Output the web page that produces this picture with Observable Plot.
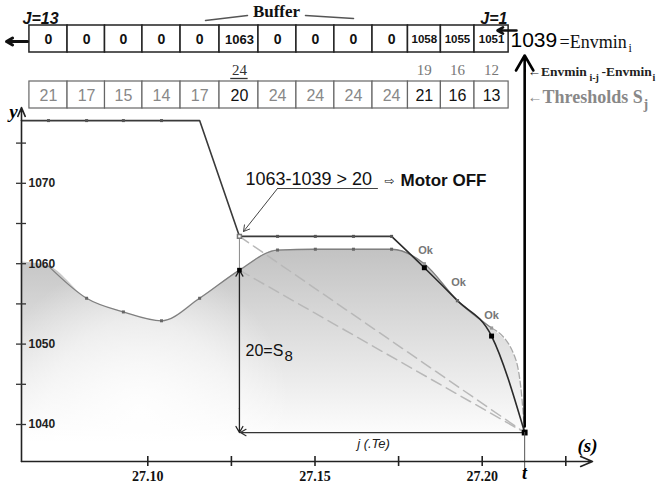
<!DOCTYPE html>
<html><head><meta charset="utf-8">
<script src="https://cdn.jsdelivr.net/npm/d3@7"></script>
<script src="https://cdn.jsdelivr.net/npm/@observablehq/plot@0.6"></script>
<style>body{margin:0;background:#fff;} svg{display:block;}</style>
</head><body><div id="chart"></div>
<script>
// ---------- data ----------
const lag = [13, 12, 11, 10, 9, 8, 7, 6, 5, 4, 3, 2, 1, 0];
const time = [27.0703, 27.0817, 27.0927, 27.1041, 27.1155, 27.1274, 27.1388, 27.1501, 27.1615, 27.1729, 27.1827, 27.1926, 27.2028, 27.2127];
const signal = [1059.7, 1055.7, 1054.0, 1052.9, 1055.7, 1059.2, 1061.7, 1061.8, 1061.8, 1061.8, 1060.0, 1055.4, 1052.0, 1039.0];
const envelope = [1077.8, 1077.8, 1077.8, 1077.8, 1077.8, 1063.4, 1063.4, 1063.4, 1063.4, 1063.4, 1059.5, 1055.4, 1051.0, 1039.0];
const envelopeStartTime = 27.0622, envelopeStartValue = 1077.8;
const signalStartTime = 27.0622, signalStartValue = 1060.2;
const signalTailTime = [27.2094, 27.2118];
const signalTailValue = [1048.8, 1043.6];
const bufferJ = [13, 12, 11, 10, 9, 8, 7, 6, 5, 4, 3, 2, 1];
const bufferValues = [0, 0, 0, 0, 0, 1063, 0, 0, 0, 0, 1058, 1055, 1051];
const thresholds = [21, 17, 15, 14, 17, 20, 24, 24, 24, 24, 21, 16, 13];
const diffJ = [8, 3, 2, 1];
const diffValues = [24, 19, 16, 12];
const currentValue = 1039;
const xTicks = [27.10, 27.125, 27.15, 27.175, 27.20, 27.225];
const xTickLabels = ["27.10", "", "27.15", "", "27.20", ""];
const yTicks = [1040, 1045, 1050, 1055, 1060, 1065, 1070, 1075];
const yTickLabels = ["1040", "", "1050", "", "1060", "", "1070", ""];

// ---------- pixel helpers for annotation placement ----------
const X = px => 27.10 + (px - 147.3) / 3344;
const Y = py => 1040 + (424 - py) / 8.04;

const idx = j => lag.indexOf(j);
const pts = lag.map((j, i) => ({j, time: time[i], signal: signal[i], envelope: envelope[i]}));
const cells = bufferJ.map((j, k) => {
  const i = idx(j);
  const left = i === 0 ? time[0] - (time[1] - time[0]) / 2 : (time[i - 1] + time[i]) / 2;
  const right = j === 1 ? time[i] + (time[i] - time[i - 1]) / 2 : (time[i] + time[i + 1]) / 2;
  return {j, time: time[i], x1: left, x2: right, buf: bufferValues[k], thr: thresholds[k]};
});
const diffs = diffJ.map((j, k) => ({j, time: time[idx(j)], v: diffValues[k]}));

const areaData = [{time: signalStartTime, v: signalStartValue}]
  .concat(pts.slice(0, 13).map(d => ({time: d.time, v: d.signal})))
  .concat(signalTailTime.map((t, k) => ({time: t, v: signalTailValue[k]})))
  .concat([{time: time[13], v: signal[13]}]);
const signalSolid = pts.slice(0, 13);
const signalTail = [{time: time[12], v: signal[12]}]
  .concat(signalTailTime.map((t, k) => ({time: t, v: signalTailValue[k]})))
  .concat([{time: time[13], v: signal[13]}]);
const envA = [{time: envelopeStartTime, envelope: envelopeStartValue}].concat(pts.slice(0, 10));
const envB = pts.slice(9);

const serif = "Liberation Serif", sans = "Liberation Sans";
const note = (t, px, py, o) => Plot.text([t], {x: X(px), y: Y(py), text: d => d, ...o});
const seg = (a, b, c, d, o) => Plot.line([[X(a), Y(b)], [X(c), Y(d)]], {x: p => p[0], y: p => p[1], ...o});
const arr = (a, b, c, d, o) => Plot.arrow([0], {x1: X(a), y1: Y(b), x2: X(c), y2: Y(d), ...o});

const t8 = time[idx(8)], t0 = time[idx(0)];

const chart = Plot.plot({
  width: 659, height: 484, margin: 0,
  x: {domain: [X(0), X(659)], axis: null},
  y: {domain: [Y(484), Y(0)], axis: null},
  style: {fontFamily: sans, background: "white", overflow: "visible"},
  marks: [
    // shaded area under the signal
    Plot.areaY(areaData, {x: "time", y1: Y(442), y2: "v", curve: "monotone-x", fill: "url(#shade)"}),
    Plot.areaY(areaData, {x: "time", y1: Y(442), y2: "v", curve: "monotone-x", fill: "url(#glow)"}),
    // dashed guide lines to the current point
    Plot.line([{time: t8, v: envelope[idx(8)]}, {time: t0, v: currentValue}], {x: "time", y: "v", stroke: "#b8b8b8", strokeDasharray: "11,6"}),
    Plot.line([{time: t8, v: signal[idx(8)]}, {time: t0, v: currentValue}], {x: "time", y: "v", stroke: "#b8b8b8", strokeDasharray: "11,6"}),
    // signal
    Plot.line(signalSolid, {x: "time", y: "signal", curve: "monotone-x", stroke: "#808080", strokeWidth: 1.3}),
    Plot.line(signalTail, {x: "time", y: "v", curve: "monotone-x", stroke: "#a8a8a8", strokeWidth: 1.3, strokeDasharray: "6,3"}),
    // envelope (buffered min)
    Plot.line(envA, {x: "time", y: "envelope", stroke: "#3a3a3a", strokeWidth: 1.6}),
    Plot.line(envB, {x: "time", y: "envelope", curve: "monotone-x", stroke: "#2a2a2a", strokeWidth: 1.6}),
    // j=8 vertical
    Plot.ruleX([t8], {y1: envelope[idx(8)], y2: signal[idx(8)], stroke: "#8a8a8a"}),
    Plot.arrow([0], {x1: t8, y1: currentValue + 3, x2: t8, y2: signal[idx(8)], stroke: "#222", strokeWidth: 1.3, headLength: 8}),
    Plot.arrow([0], {x1: t8, y1: currentValue + 3, x2: t8, y2: currentValue, stroke: "#222", strokeWidth: 1.3, headLength: 8}),
    Plot.arrow([0], {x1: t0, y1: currentValue, x2: t8 + 0.0003, y2: currentValue, stroke: "#333", strokeWidth: 1.2, headLength: 8}),
    // markers
    Plot.dot(pts.filter(d => [13, 12, 11, 10, 7, 6, 5, 4].includes(d.j)), {x: "time", y: "envelope", symbol: "square", r: 1.7, fill: "#555"}),
    Plot.dot(pts.filter(d => [12, 11, 10, 9, 7, 6, 5, 4].includes(d.j)), {x: "time", y: "signal", symbol: "square", r: 1.7, fill: "#666"}),
    Plot.dot(pts.filter(d => [3, 1].includes(d.j)), {x: "time", y: "signal", symbol: "square", r: 1.8, fill: "#999"}),
    Plot.dot(pts.filter(d => d.j === 8), {x: "time", y: "envelope", symbol: "square", r: 2.2, fill: "white", stroke: "#777"}),
    Plot.dot(pts.filter(d => d.j === 2), {x: "time", y: "envelope", symbol: "square", r: 1.8, fill: "#666"}),
    Plot.dot(pts.filter(d => [3, 1].includes(d.j)), {x: "time", y: "envelope", symbol: "square", r: 2.8, fill: "#000"}),
    Plot.dot(pts.filter(d => d.j === 8), {x: "time", y: "signal", symbol: "square", r: 2.6, fill: "#000"}),
    Plot.dot(pts.filter(d => d.j === 0), {x: "time", y: "envelope", symbol: "square", r: 3.3, fill: "#000"}),
    // current-time vertical
    Plot.ruleX([t0], {y1: currentValue, y2: Y(470), stroke: "#555"}),
    Plot.arrow([0], {x1: t0, y1: Y(426), x2: t0, y2: Y(55), stroke: "#000", strokeWidth: 2.6, headLength: 10}),
    // axes
    arr(21, 461, 592, 461, {stroke: "#222", strokeWidth: 1.6, headLength: 12, headAngle: 45}),
    arr(21, 461, 21, 107, {stroke: "#222", strokeWidth: 1.6, headLength: 9, headAngle: 45}),
    Plot.ruleX(xTicks, {y1: Y(456), y2: Y(466), stroke: "#222", strokeWidth: 1.6}),
    Plot.ruleY(yTicks, {x1: X(16), x2: X(26), stroke: "#333", strokeWidth: 1.3}),
    Plot.text(xTicks.map((t, k) => ({t, s: xTickLabels[k]})), {x: "t", y: Y(476), text: "s", fontFamily: serif, fontWeight: "bold", fontSize: 14, fill: "#111"}),
    Plot.text(yTicks.map((t, k) => ({t, s: yTickLabels[k]})), {x: X(28), y: "t", text: "s", textAnchor: "start", fontWeight: "bold", fontSize: 12, fill: "#222"}),
    note("y", 13, 111, {fontFamily: serif, fontStyle: "italic", fontWeight: "bold", fontSize: 19}),
    note("(s)", 587, 445, {fontFamily: serif, fontStyle: "italic", fontWeight: "bold", fontSize: 19}),
    note("t", 524, 473, {fontFamily: serif, fontStyle: "italic", fontWeight: "bold", fontSize: 18}),
    note("j (.Te)", 373, 443, {fontStyle: "italic", fontSize: 13, fill: "#222"}),
    note("20=S", 245, 350, {textAnchor: "start", fontSize: 16, fill: "#111"}),
    note("8", 284, 356, {textAnchor: "start", fontSize: 15, fill: "#111"}),
    note("Ok", 425, 250, {fontWeight: "bold", fontSize: 11, fill: "#777"}),
    note("Ok", 458, 282, {fontWeight: "bold", fontSize: 11, fill: "#777"}),
    note("Ok", 491, 315, {fontWeight: "bold", fontSize: 11, fill: "#777"}),
    // Motor OFF annotation
    note("1063-1039 > 20", 245, 179, {textAnchor: "start", fontSize: 18, fill: "#111"}),
    note("\u21E8", 389, 181, {fontFamily: "DejaVu Sans", fontSize: 12, fill: "#111"}),
    note("Motor OFF", 400, 180, {textAnchor: "start", fontWeight: "bold", fontSize: 17, fill: "#111"}),
    seg(377, 188, 277, 188, {stroke: "#444", strokeWidth: 1}),
    arr(277, 188, 243, 231, {stroke: "#444", strokeWidth: 1, headLength: 10}),
    // buffer row
    Plot.rect(cells, {x1: "x1", x2: "x2", y1: Y(52), y2: Y(25), fill: "white", stroke: "#222", strokeWidth: 1.5}),
    Plot.text(cells.filter(d => d.buf === 0), {x: "time", y: Y(39), text: d => String(d.buf), fontWeight: "bold", fontSize: 14, fill: "#111"}),
    Plot.text(cells.filter(d => d.buf !== 0 && d.j > 3), {x: "time", y: Y(39), text: d => String(d.buf), fontWeight: "bold", fontSize: 13, fill: "#111"}),
    Plot.text(cells.filter(d => d.buf !== 0 && d.j <= 3), {x: "time", y: Y(39), text: d => String(d.buf), fontWeight: "bold", fontSize: 11.5, fill: "#111"}),
    // thresholds row
    Plot.rect(cells, {x1: "x1", x2: "x2", y1: Y(108), y2: Y(81), fill: "white", stroke: "#666", strokeWidth: 1.2}),
    Plot.text(cells, {x: "time", y: Y(95), text: d => String(d.thr), fontSize: 16, fill: d => d.buf !== 0 ? "#111" : "#888"}),
    // differences
    Plot.text(diffs, {x: "time", y: Y(70), text: d => String(d.v), fontFamily: serif, fontWeight: d => d.j === 8 ? "bold" : "normal", fontSize: 15, fill: d => d.j === 8 ? "#333" : "#777"}),
    Plot.ruleY([Y(78)], {x1: t8 - 0.0026, x2: t8 + 0.0026, stroke: "#333", strokeWidth: 1.3}),
    // buffer labels
    note("J=13", 22, 18, {textAnchor: "start", fontStyle: "italic", fontWeight: "bold", fontSize: 16, fill: "#111"}),
    note("J=1", 507, 18, {textAnchor: "end", fontStyle: "italic", fontWeight: "bold", fontSize: 16, fill: "#111"}),
    note("Buffer", 276, 11, {fontFamily: serif, fontWeight: "bold", fontSize: 17, fill: "#111"}),
    seg(205, 20, 247, 15, {stroke: "#555"}),
    seg(305, 15, 353, 18, {stroke: "#555"}),
    arr(27, 41, 6, 41, {stroke: "#111", strokeWidth: 3, headLength: 7}),
    arr(516, 30, 497, 30, {stroke: "#111", strokeWidth: 2.6, headLength: 7}),
    // right-hand legend texts
    note("1039", 510, 40, {textAnchor: "start", fontSize: 21, fill: "#000"}),
    note("=Envmin", 559, 42, {textAnchor: "start", fontFamily: serif, fontSize: 18, fill: "#111"}),
    note("i", 628, 48, {textAnchor: "start", fontFamily: serif, fontSize: 12, fill: "#111"}),
    note("\u2190Envmin", 527, 71, {textAnchor: "start", fontFamily: serif, fontWeight: "bold", fontSize: 13.5, fill: "#222"}),
    note("i-j", 589, 77, {textAnchor: "start", fontFamily: serif, fontWeight: "bold", fontSize: 10, fill: "#222"}),
    note("-Envmin", 601, 71, {textAnchor: "start", fontFamily: serif, fontWeight: "bold", fontSize: 13.5, fill: "#222"}),
    note("i", 652, 77, {textAnchor: "start", fontFamily: serif, fontWeight: "bold", fontSize: 10, fill: "#222"}),
    note("\u2190", 527, 97, {textAnchor: "start", fontFamily: serif, fontSize: 15, fill: "#888"}),
    note("Thresholds S", 542, 97, {textAnchor: "start", fontFamily: serif, fontWeight: "bold", fontSize: 18, fill: "#888"}),
    note("j", 643, 104, {textAnchor: "start", fontFamily: serif, fontWeight: "bold", fontSize: 14, fill: "#888"})
  ]
});

const defs = d3.select(chart).insert("defs", ":first-child");
const g = defs.append("linearGradient").attr("id", "shade").attr("gradientUnits", "userSpaceOnUse")
  .attr("x1", 0).attr("y1", 248).attr("x2", 0).attr("y2", 442);
g.append("stop").attr("offset", "0").attr("stop-color", "#c2c2c2");
g.append("stop").attr("offset", "0.35").attr("stop-color", "#d8d8d8");
g.append("stop").attr("offset", "0.75").attr("stop-color", "#f0f0f0");
g.append("stop").attr("offset", "1").attr("stop-color", "#ffffff");
const r = defs.append("radialGradient").attr("id", "glow").attr("gradientUnits", "userSpaceOnUse")
  .attr("cx", 140).attr("cy", 410).attr("r", 150);
r.append("stop").attr("offset", "0").attr("stop-color", "#ffffff").attr("stop-opacity", 0.9);
r.append("stop").attr("offset", "0.6").attr("stop-color", "#ffffff").attr("stop-opacity", 0.5);
r.append("stop").attr("offset", "1").attr("stop-color", "#ffffff").attr("stop-opacity", 0);
document.getElementById("chart").append(chart);
</script>
</body></html>
